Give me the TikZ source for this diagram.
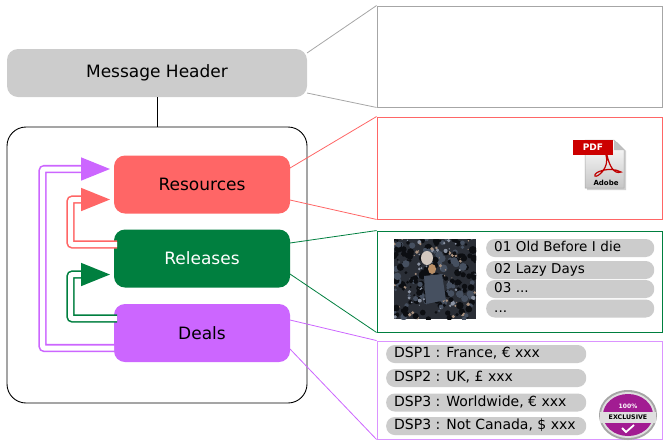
\documentclass[tikz,border=0pt]{standalone}
\usepackage{fontspec}
\setmainfont{DejaVu Sans}
\usetikzlibrary{arrows.meta}
\definecolor{cred}{HTML}{FF6666}
\definecolor{cgreen}{HTML}{007F3F}
\definecolor{cpurple}{HTML}{CC66FF}
\definecolor{cgray}{HTML}{CCCCCC}
\definecolor{phA}{HTML}{2A2E36}
\definecolor{phB}{HTML}{465060}
\definecolor{phC}{HTML}{8A92A2}
\definecolor{phD}{HTML}{A8917F}
\definecolor{phE}{HTML}{0C0E12}
\definecolor{cbadge}{HTML}{A21C92}
\newcommand{\dsptext}[1]{\makebox[184pt][l]{#1}}
\tikzset{
  block/.style={fill=#1,rounded corners=11pt,minimum width=176pt,minimum height=58pt,inner sep=0pt,font=\fontsize{17}{20}\selectfont},
  infobox/.style={draw=#1,fill=white,line width=0.9pt,minimum width=285pt,minimum height=101pt,inner sep=0pt},
  pill/.style={fill=cgray,rounded corners=8.5pt,minimum height=18pt,inner xsep=8pt,inner ysep=0pt,anchor=west,align=left,text height=10pt,text depth=2.5pt},
  trackpill/.style={pill,text width=152pt,font=\fontsize{13.5}{16}\selectfont},
  dsppill/.style={pill,font=\fontsize{14}{16}\selectfont},
  link/.style={draw=#1,line width=0.8pt},
  backref/.style={draw=#1,line width=1.6pt,double=white,double distance=5pt,rounded corners=2pt,
     -{Triangle[length=29pt,width=23pt,fill=#1]},shorten >=4pt},
}
\begin{document}
\begin{tikzpicture}[x=1pt,y=-1pt]
\useasboundingbox (0,0) rectangle (663,440);
% info boxes
\node[infobox=gray!70] (boxH) at (519.5,56.5) {};
\node[infobox=cred,minimum height=102pt] (boxR) at (519.5,168) {};
\node[infobox=cgreen] (boxG) at (519.5,281.5) {};
\node[infobox=cpurple!70,minimum height=98pt] (boxD) at (519.5,390) {};
% header and container
\node[fill=cgray,rounded corners=11pt,minimum width=300pt,minimum height=48pt,inner sep=0pt,font=\fontsize{17}{20}\selectfont] (hdr) at (157,73) {Message Header};
\node[draw=black,line width=0.9pt,fill=white,rounded corners=19pt,minimum width=300pt,minimum height=276pt,inner sep=0pt] (cont) at (157,265) {};
\draw[black,line width=0.9pt] (hdr.south) -- (hdr.south |- cont.north);
% blocks
\node[block=cred] (res) at (202,184.5) {Resources};
\node[block=cgreen,text=white] (rel) at (202,258.5) {Releases};
\node[block=cpurple] (deals) at (202,333) {Deals};
% link ends
\coordinate (h1) at (307,53);
\coordinate (h2) at (307,93);
\coordinate (r1) at (290,168);
\coordinate (r2) at (290,200);
\coordinate (g1) at (290,243);
\coordinate (g2) at (290,274);
\coordinate (d1) at (290,320);
\coordinate (d2) at (290,349);
\draw[link=gray!70] (h1) -- (boxH.north west);
\draw[link=gray!70] (h2) -- (boxH.south west);
\draw[link=cred] (r1) -- (boxR.north west);
\draw[link=cred] (r2) -- (boxR.south west);
\draw[link=cgreen] (g1) -- (boxG.north west);
\draw[link=cgreen] (g2) -- (boxG.south west);
\draw[link=cpurple] (d1) -- (boxD.north west);
\draw[link=cpurple] (d2) -- (boxD.south west);
% reference arrows
\coordinate (pOut) at (114,348);
\coordinate (pBus) at (42.5,250);
\coordinate (pIn) at (114,169);
\coordinate (rOut) at (117,244.5);
\coordinate (rBus) at (70.5,220);
\coordinate (rIn) at (114,199.5);
\coordinate (gOut) at (117,318.5);
\coordinate (gBus) at (70.5,300);
\coordinate (gIn) at (114,274.5);
\draw[backref=cpurple] (pOut) -| (pBus) |- (pIn);
\draw[backref=cred] (rOut) -| (rBus) |- (rIn);
\draw[backref=cgreen] (gOut) -| (gBus) |- (gIn);
% album picture
\begin{scope}
\clip (394,239) rectangle (476,319);
\fill[phA] (394,239) rectangle (476,319);
\pgfmathsetseed{11}
\foreach \i in {1,...,300}{
  \pgfmathsetmacro{\px}{394+82*rnd}
  \pgfmathsetmacro{\py}{239+80*rnd}
  \pgfmathsetmacro{\pr}{1+3*rnd}
  \pgfmathtruncatemacro{\pc}{int(5*rnd)}
  \ifcase\pc
    \fill[phE] (\px,\py) circle[radius=\pr];
  \or
    \fill[phB] (\px,\py) circle[radius=\pr];
  \or
    \fill[phE] (\px,\py) circle[radius=\pr];
  \or
    \fill[phC] (\px,\py) circle[radius=\pr*0.55];
  \else
    \fill[phD] (\px,\py) circle[radius=\pr*0.5];
  \fi
}
\fill[phB] (424,276) -- (442,274) -- (446,300) -- (426,304) -- cycle;
\fill[phD!50!white] (427,258) ellipse[x radius=6,y radius=7];
\fill[phD!80!orange] (432,269) ellipse[x radius=4,y radius=5];
\end{scope}
% track pills
\node[trackpill] (t1) at (486,248) {01 Old Before I die};
\node[trackpill] (t2) at (486,270) {02 Lazy Days};
\node[trackpill] (t3) at (486,289) {03 ...};
\node[trackpill] (t4) at (486,308.5) {...};
% deal pills
\node[dsppill] (p1) at (386,354) {\dsptext{DSP1 : France, € xxx}};
\node[dsppill] (p2) at (386,378) {\dsptext{DSP2 : UK, £ xxx}};
\node[dsppill] (p3) at (386,402.5) {\dsptext{DSP3 : Worldwide, € xxx}};
\node[dsppill] (p4) at (386,426) {\dsptext{DSP3 : Not Canada, \$ xxx}};
% pdf icon
\fill[gray!35] (587,142) -- (617,142) -- (626,151) -- (626,190) -- (587,190) -- cycle;
\shade[top color=white,bottom color=gray!45,draw=gray!70,line width=0.5pt] (585,140) -- (614,140) -- (624,150) -- (624,188) -- (585,188) -- cycle;
\fill[gray!50] (614,140) -- (614,150) -- (624,150) -- cycle;
\draw[red!75!black,line width=1.2pt] (606,155) .. controls (610,168) and (597,178) .. (595,176) .. controls (593,172) and (610,166) .. (621,172) .. controls (614,175) and (609,165) .. (607,155);
\node[fill=red!80!black,text=white,font=\bfseries\fontsize{9}{10}\selectfont,minimum width=40pt,minimum height=15pt,inner sep=0pt] (pdf) at (593,147.5) {PDF};
\node[font=\bfseries\fontsize{7}{8}\selectfont,inner sep=0pt] (adobe) at (606,183) {Adobe};
% badge
\fill[gray!70] (628,415) ellipse[x radius=29,y radius=25];
\fill[gray!25] (628,415) ellipse[x radius=27,y radius=23];
\fill[cbadge] (628,415) ellipse[x radius=25,y radius=21];
\fill[gray!25] (600,412) rectangle (656,423);
\node[text=white,font=\bfseries\fontsize{6}{7}\selectfont,inner sep=0pt] (b1) at (628,406.5) {100\%};
\node[text=black,font=\bfseries\fontsize{6.3}{7}\selectfont,inner sep=0pt] (b2) at (628,417.5) {EXCLUSIVE};
\draw[white,line width=1.8pt] (622,428) -- (626,432) -- (634,425);
\end{tikzpicture}
\end{document}
